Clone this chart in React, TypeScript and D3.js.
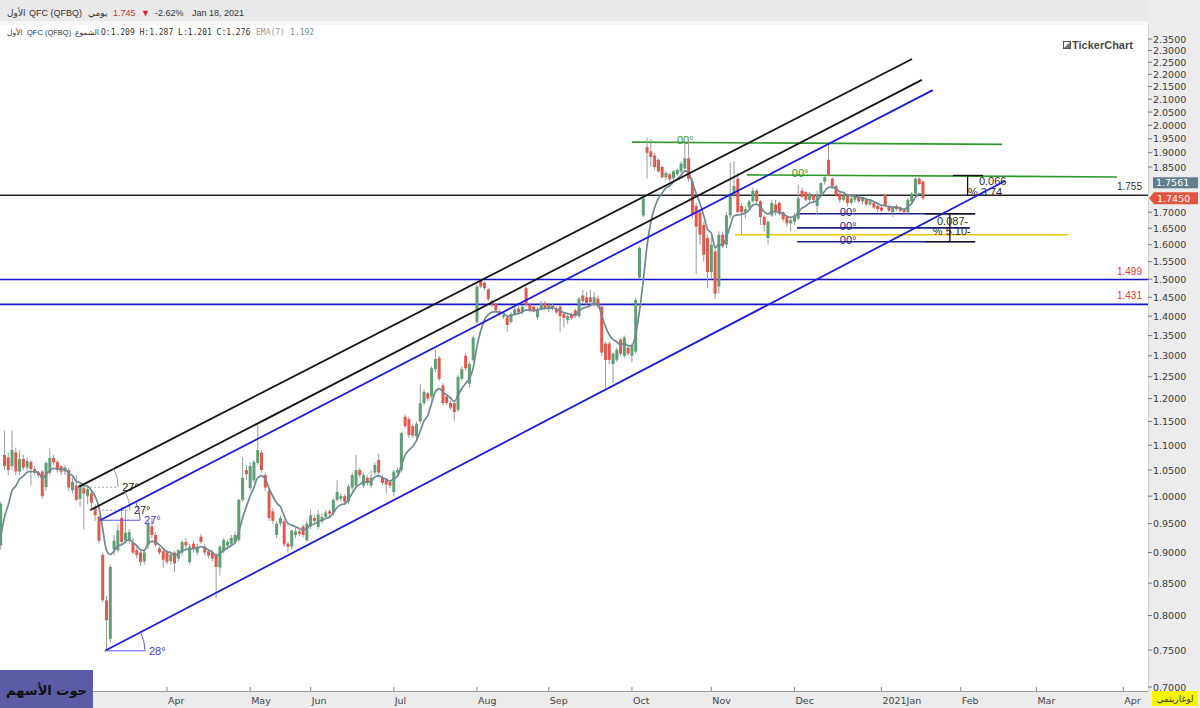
import React from "react";
import * as d3 from "d3";

// ---------- DATA ----------
// Daily candles (trading-day index; index 0 = first trading day of April 2020)
const FIRST_INDEX = -45;

const openPrices = [
  0.900,0.912,1.080,1.075,1.058,1.085,1.047,1.072,1.055,1.066,
  1.052,1.045,1.047,1.017,1.045,1.074,1.066,1.057,1.047,1.050,
  1.011,1.020,0.995,1.015,1.000,1.005,0.978,0.962,0.896,0.823,
  0.766,0.905,0.904,0.960,0.921,0.920,0.917,0.904,0.900,0.885,
  0.913,0.945,0.930,0.907,0.902,0.900,0.886,0.900,0.890,0.900,
  0.918,0.884,0.915,0.900,0.927,0.910,0.902,0.900,0.896,0.875,
  0.902,0.912,0.915,0.918,0.921,0.993,1.050,1.015,1.030,1.064,
  1.085,1.040,1.010,0.972,0.930,0.950,0.954,0.915,0.910,0.930,
  0.936,0.945,0.921,0.945,0.960,0.944,0.956,0.962,0.972,0.970,
  0.993,0.995,1.000,0.990,1.016,1.020,1.050,1.020,1.035,1.020,
  1.045,1.070,1.035,1.030,1.027,1.008,1.045,1.050,1.160,1.155,
  1.140,1.118,1.150,1.190,1.212,1.205,1.268,1.295,1.230,1.205,
  1.190,1.190,1.175,1.245,1.300,1.234,1.290,1.384,1.495,1.490,
  1.472,1.440,1.432,1.412,1.398,1.397,1.385,1.405,1.420,1.410,
  1.475,1.430,1.425,1.397,1.418,1.435,1.418,1.428,1.420,1.425,
  1.405,1.390,1.405,1.415,1.400,1.455,1.450,1.450,1.430,1.447,
  1.425,1.330,1.330,1.280,1.290,1.340,1.300,1.320,1.300,1.310,
  1.505,1.690,1.920,1.905,1.890,1.875,1.850,1.815,1.825,1.812,
  1.825,1.835,1.845,1.880,1.800,1.720,1.700,1.660,1.620,1.520,
  1.580,1.480,1.630,1.600,1.690,1.755,1.810,1.720,1.700,1.715,
  1.735,1.770,1.735,1.685,1.620,1.690,1.725,1.730,1.700,1.685,
  1.665,1.670,1.680,1.770,1.765,1.740,1.755,1.720,1.760,1.800,
  1.875,1.810,1.785,1.760,1.740,1.755,1.730,1.740,1.750,1.735,
  1.740,1.725,1.730,1.720,1.715,1.755,1.720,1.700,1.720,1.715,
  1.710,1.700,1.735,1.760,1.810,1.800,
];

const highPrices = [
  0.920,0.990,1.130,1.085,1.130,1.095,1.090,1.080,1.075,1.070,
  1.058,1.048,1.050,1.068,1.094,1.080,1.070,1.060,1.060,1.055,
  1.035,1.040,1.025,1.020,1.020,1.010,0.985,0.965,0.900,0.830,
  0.880,0.930,0.950,0.980,0.975,0.940,0.925,0.910,0.905,0.905,
  0.955,0.960,0.935,0.910,0.905,0.905,0.900,0.903,0.906,0.922,
  0.925,0.915,0.920,0.915,0.932,0.915,0.906,0.904,0.900,0.912,
  0.925,0.922,0.930,0.935,0.995,1.075,1.060,1.065,1.070,1.142,
  1.090,1.045,1.015,0.978,0.955,0.965,0.958,0.918,0.940,0.942,
  0.940,0.948,0.955,0.975,0.965,0.975,0.968,0.975,0.976,0.996,
  1.030,1.005,1.004,1.022,1.045,1.080,1.055,1.045,1.040,1.050,
  1.065,1.082,1.040,1.035,1.030,1.050,1.055,1.128,1.165,1.160,
  1.145,1.150,1.234,1.220,1.215,1.275,1.315,1.300,1.235,1.210,
  1.195,1.195,1.255,1.275,1.305,1.285,1.350,1.485,1.502,1.495,
  1.476,1.445,1.435,1.418,1.408,1.400,1.410,1.425,1.430,1.430,
  1.480,1.435,1.430,1.425,1.440,1.440,1.432,1.432,1.425,1.430,
  1.410,1.405,1.408,1.420,1.450,1.470,1.465,1.470,1.465,1.455,
  1.430,1.335,1.335,1.310,1.320,1.345,1.350,1.325,1.330,1.450,
  1.595,1.750,1.955,1.950,1.900,1.880,1.855,1.835,1.830,1.840,
  1.845,1.870,1.945,1.950,1.810,1.730,1.710,1.670,1.630,1.630,
  1.590,1.640,1.640,1.700,1.865,1.870,1.830,1.730,1.720,1.740,
  1.780,1.775,1.740,1.690,1.675,1.740,1.740,1.735,1.705,1.690,
  1.685,1.700,1.790,1.780,1.770,1.765,1.760,1.770,1.800,1.820,
  1.930,1.815,1.790,1.765,1.760,1.760,1.750,1.755,1.755,1.750,
  1.745,1.740,1.735,1.725,1.720,1.760,1.725,1.720,1.725,1.720,
  1.715,1.745,1.765,1.815,1.815,1.805,
];

const lowPrices = [
  0.890,0.905,1.050,1.040,1.050,1.040,1.040,1.050,1.048,1.020,
  1.040,1.035,0.995,1.010,1.040,1.060,1.045,1.040,1.040,1.010,
  1.005,0.990,0.980,0.940,0.985,0.975,0.955,0.915,0.820,0.750,
  0.760,0.895,0.900,0.912,0.915,0.915,0.897,0.890,0.878,0.880,
  0.905,0.925,0.910,0.896,0.875,0.880,0.880,0.868,0.885,0.895,
  0.905,0.880,0.900,0.895,0.915,0.895,0.890,0.885,0.827,0.862,
  0.898,0.905,0.910,0.915,0.918,0.990,1.030,1.010,1.025,1.060,
  1.045,1.010,0.955,0.950,0.925,0.945,0.910,0.900,0.905,0.925,
  0.928,0.926,0.918,0.940,0.950,0.940,0.950,0.958,0.962,0.965,
  0.990,0.990,0.985,0.985,1.010,1.015,1.035,1.015,1.020,1.015,
  1.040,1.040,1.020,1.005,1.015,1.000,1.040,1.045,1.135,1.115,
  1.115,1.112,1.145,1.185,1.195,1.200,1.260,1.240,1.185,1.185,
  1.175,1.150,1.170,1.240,1.265,1.225,1.285,1.380,1.475,1.470,
  1.440,1.425,1.410,1.400,1.392,1.360,1.380,1.400,1.405,1.405,
  1.425,1.410,1.410,1.390,1.415,1.418,1.410,1.415,1.405,1.360,
  1.370,1.380,1.390,1.395,1.395,1.435,1.430,1.430,1.425,1.420,
  1.300,1.225,1.280,1.235,1.285,1.300,1.295,1.300,1.285,1.305,
  1.500,1.685,1.810,1.850,1.840,1.830,1.810,1.805,1.800,1.805,
  1.820,1.830,1.840,1.800,1.680,1.515,1.600,1.550,1.475,1.500,
  1.445,1.460,1.590,1.590,1.680,1.745,1.700,1.630,1.680,1.710,
  1.730,1.730,1.660,1.640,1.600,1.685,1.690,1.690,1.670,1.655,
  1.640,1.660,1.675,1.745,1.735,1.730,1.730,1.690,1.755,1.790,
  1.820,1.775,1.750,1.730,1.735,1.720,1.725,1.730,1.730,1.725,
  1.720,1.720,1.710,1.700,1.700,1.715,1.700,1.685,1.705,1.700,
  1.695,1.695,1.730,1.755,1.790,1.740,
];

const closePrices = [
  0.910,0.986,1.058,1.050,1.090,1.047,1.072,1.055,1.068,1.052,
  1.045,1.040,1.000,1.064,1.074,1.065,1.050,1.047,1.055,1.016,
  1.027,0.993,1.020,1.005,1.013,0.988,0.965,0.920,0.823,0.793,
  0.876,0.920,0.938,0.918,0.934,0.935,0.900,0.896,0.884,0.900,
  0.950,0.930,0.913,0.900,0.888,0.884,0.897,0.882,0.904,0.918,
  0.912,0.910,0.907,0.910,0.918,0.900,0.895,0.890,0.876,0.910,
  0.921,0.918,0.925,0.930,0.993,1.035,1.042,1.058,1.066,1.090,
  1.050,1.016,0.960,0.955,0.950,0.960,0.914,0.910,0.938,0.936,
  0.932,0.930,0.950,0.965,0.955,0.966,0.962,0.970,0.968,0.993,
  1.008,1.000,0.990,1.018,1.040,1.050,1.040,1.040,1.025,1.035,
  1.060,1.045,1.025,1.022,1.020,1.047,1.050,1.125,1.140,1.121,
  1.120,1.145,1.190,1.215,1.200,1.270,1.292,1.245,1.190,1.190,
  1.180,1.170,1.250,1.268,1.270,1.280,1.345,1.480,1.480,1.475,
  1.445,1.430,1.415,1.405,1.402,1.377,1.405,1.418,1.410,1.425,
  1.430,1.415,1.412,1.418,1.432,1.420,1.428,1.420,1.410,1.400,
  1.395,1.400,1.395,1.400,1.447,1.440,1.435,1.437,1.450,1.426,
  1.308,1.290,1.290,1.305,1.315,1.305,1.345,1.305,1.326,1.443,
  1.590,1.745,1.900,1.885,1.850,1.835,1.815,1.830,1.808,1.835,
  1.840,1.862,1.880,1.810,1.695,1.655,1.630,1.570,1.520,1.600,
  1.460,1.630,1.595,1.690,1.760,1.785,1.700,1.700,1.710,1.735,
  1.770,1.735,1.685,1.660,1.670,1.730,1.700,1.695,1.678,1.665,
  1.675,1.690,1.745,1.750,1.740,1.760,1.740,1.755,1.795,1.815,
  1.820,1.785,1.755,1.740,1.755,1.730,1.745,1.750,1.735,1.745,
  1.725,1.735,1.715,1.710,1.705,1.720,1.705,1.715,1.710,1.705,
  1.700,1.740,1.760,1.810,1.792,1.745,
];

// month ticks (trading-day index of first session of each month)
const monthLabels = ["Apr", "May", "Jun", "Jul", "Aug", "Sep", "Oct", "Nov", "Dec", "2021Jan", "Feb", "Mar", "Apr"];
const monthStarts = [0, 22, 38, 60, 82, 101, 123, 144, 166, 189, 210, 230, 253];

// price axis
const priceMin = 0.7;
const priceMax = 2.35;
const priceStep = 0.05;

// full-width horizontal levels
const levelPrices = [1.755, 1.499, 1.431];
const levelLabels = ["1.755", "1.499", "1.431"];
const levelColors = ["#262626", "#1414d2", "#1414d2"];
const levelLabelColors = ["#333333", "#e8323c", "#e8323c"];

// trend channel lines [startIndex, startPrice, endIndex, endPrice]
const trendLines = [
  [-23.5, 1.017, 197.1, 2.264],
  [-20.4, 0.974, 199.7, 2.177],
  [-17.7, 0.956, 202.6, 2.136],
  [-16.4, 0.749, 221.7, 1.802],
];
const trendColors = ["#151515", "#151515", "#1c1ce0", "#1c1ce0"];
const trendAngleLabels = ["27°", "27°", "27°", "28°"];
const trendAngleColors = ["#222222", "#222222", "#3a3ae8", "#3a3ae8"];

// drawn segments with "00°" tags [startIndex, startPrice, endIndex, endPrice, tagIndex]
const tagLines = [
  [123.0, 1.938, 220.9, 1.930, 134.9],
  [153.4, 1.823, 251.3, 1.816, 165.3],
  [166.7, 1.695, 213.8, 1.695, 178.0],
  [166.7, 1.651, 212.4, 1.651, 178.0],
  [166.7, 1.609, 213.8, 1.609, 178.0],
];
const tagColors = ["#2f982f", "#2f982f", "#1f1f85", "#1f1f85", "#1f1f85"];

// yellow support line
const yellowLine = [150.3, 1.63, 238.4, 1.63];

// measuring tool segments
const measureSegs = [
  [207.9, 1.821, 215.9, 1.821],
  [211.8, 1.755, 211.8, 1.821],
  [200.5, 1.695, 213.8, 1.695],
  [200.5, 1.609, 213.8, 1.609],
  [207.1, 1.695, 207.1, 1.609],
];
const measureTexts = ["0.066", "% 3.74", "0.087-", "% 5.10-"];
const measureTextPos = [
  [214.8, 1.789],
  [211.9, 1.752],
  [203.7, 1.660],
  [202.6, 1.630],
];

const lastClose = 1.745;
const emaLast = "1.7561";

// ---------- COMPONENT ----------
const W = 1200;
const H = 708;
const PL = 0, PR = 1148, PT = 25, PB = 691;

export default function App() {
  const x = d3.scaleLinear().domain([0, 200]).range([167, 923]);
  const y = d3.scaleLog().domain([priceMin, priceMax]).range([687, 39]);

  const candles = closePrices.map((c, k) => ({
    i: FIRST_INDEX + k,
    o: openPrices[k],
    h: highPrices[k],
    l: lowPrices[k],
    c,
  }));

  const alpha = 2 / (7 + 1);
  const ema: number[] = [];
  closePrices.forEach((c, k) => {
    ema.push(k === 0 ? c : alpha * c + (1 - alpha) * ema[k - 1]);
  });
  const emaPath = d3
    .line<number>()
    .x((_, k) => x(FIRST_INDEX + k))
    .y((v) => y(v))
    .curve(d3.curveMonotoneX)(ema) as string;

  const ticks = d3.range(Math.round(priceMin / priceStep), Math.round(priceMax / priceStep) + 1).map((k) => +(k * priceStep).toFixed(2));
  const lastY = y(lastClose);
  const emaLabelY = lastY - 15.5;

  const font = "'Liberation Sans', 'DejaVu Sans', Arial, sans-serif";

  return (
    <svg width={W} height={H} style={{ position: "absolute", left: 0, top: 0, display: "block" }} fontFamily={font}>
      <defs>
        <clipPath id="plotClip">
          <rect x={PL} y={PT} width={PR - PL} height={PB - PT} />
        </clipPath>
      </defs>
      {/* backgrounds */}
      <rect x={0} y={0} width={W} height={H} fill="#ffffff" />
      <rect x={0} y={0} width={W} height={21} fill="#e9e9e9" />
      <rect x={0} y={21} width={PR} height={PT - 21} fill="#f6f6f6" />
      <rect x={PR} y={0} width={W - PR} height={H} fill="#ececec" />
      <rect x={0} y={PB} width={W} height={H - PB} fill="#ececec" />
      <line x1={0} x2={PR} y1={PB + 0.5} y2={PB + 0.5} stroke="#9a9a9a" strokeWidth={1} />
      <line x1={PR + 0.5} x2={PR + 0.5} y1={PT} y2={PB} stroke="#d0d0d0" strokeWidth={1} />

      <g clipPath="url(#plotClip)">
        {/* full-width levels */}
        {levelPrices.map((p, k) => (
          <g key={"lv" + k}>
            <line x1={PL} x2={PR} y1={y(p)} y2={y(p)} stroke={levelColors[k]} strokeWidth={1.6} />
            <text x={PR - 6} y={y(p) - 5} textAnchor="end" fontSize={10} fill={levelLabelColors[k]}>
              {levelLabels[k]}
            </text>
          </g>
        ))}

        {/* yellow */}
        <line x1={x(yellowLine[0])} x2={x(yellowLine[2])} y1={y(yellowLine[1])} y2={y(yellowLine[3])} stroke="#f2c400" strokeWidth={1.6} />

        {/* tag lines */}
        {tagLines.map((t, k) => (
          <g key={"tg" + k}>
            <line x1={x(t[0])} x2={x(t[2])} y1={y(t[1])} y2={y(t[3])} stroke={tagColors[k]} strokeWidth={1.6} />
            <text x={x(t[4])} y={y(t[1]) + 2} fontSize={11} fill={tagColors[k]}>
              00°
            </text>
          </g>
        ))}

        {/* measuring tool */}
        {measureSegs.map((s, k) => (
          <line key={"ms" + k} x1={x(s[0])} x2={x(s[2])} y1={y(s[1])} y2={y(s[3])} stroke="#111" strokeWidth={1.3} />
        ))}
        {measureTexts.map((t, k) => (
          <text key={"mt" + k} x={x(measureTextPos[k][0])} y={y(measureTextPos[k][1])} fontSize={11} fill="#2a2a2a">
            {t}
          </text>
        ))}

        {/* candles */}
        {candles.map((d) => {
          const cx = x(d.i);
          const up = d.c >= d.o;
          const col = up ? "#5f9f74" : "#e2584c";
          const top = y(Math.max(d.o, d.c));
          const bot = y(Math.min(d.o, d.c));
          return (
            <g key={"c" + d.i}>
              <line x1={cx} x2={cx} y1={y(d.h)} y2={y(d.l)} stroke="#9b9b9b" strokeWidth={1} />
              <rect x={cx - 1.5} y={top} width={3} height={Math.max(1, bot - top)} fill={col} />
            </g>
          );
        })}

        {/* EMA */}
        <path d={emaPath} fill="none" stroke="#6f8893" strokeWidth={1.7} />

        {/* trend channel lines + angle markers */}
        {trendLines.map((t, k) => {
          const sx = x(t[0]);
          const sy = y(t[1]);
          const ex = x(t[2]);
          const ey = y(t[3]);
          const a = Math.atan2(sy - ey, ex - sx);
          const r = 40;
          const blue = k >= 2;
          return (
            <g key={"tl" + k}>
              <line x1={sx} y1={sy} x2={ex} y2={ey} stroke={trendColors[k]} strokeWidth={1.8} />
              <line x1={sx} y1={sy} x2={sx + r} y2={sy} stroke={blue ? "#5555ee" : "#9a9a9a"} strokeWidth={1} strokeDasharray={blue ? undefined : "2,2"} />
              <path
                d={`M${sx + r},${sy} A${r},${r} 0 0 0 ${sx + r * Math.cos(a)},${sy - r * Math.sin(a)}`}
                fill="none"
                stroke={blue ? "#5555ee" : "#9a9a9a"}
                strokeWidth={1}
              />
              <text x={sx + r + 4} y={sy + 4} fontSize={11} fill={trendAngleColors[k]}>
                {trendAngleLabels[k]}
              </text>
            </g>
          );
        })}
      </g>

      {/* TickerChart logo */}
      <g>
        <rect x={1063.5} y={41.5} width={7} height={7} fill="none" stroke="#555" strokeWidth={1} />
        <path d="M1064,48 L1070,42 L1070,48 Z" fill="#777" />
        <text x={1072} y={49} fontSize={11} fontWeight="bold" fill="#4a4a4a">
          TickerChart
        </text>
      </g>

      {/* right price axis */}
      {ticks.map((p) => {
        const ty = y(p);
        if (Math.abs(ty - lastY) < 10 || Math.abs(ty - emaLabelY) < 10) return null;
        return (
          <g key={"pt" + p}>
            <line x1={PR} x2={PR + 4} y1={ty} y2={ty} stroke="#777" strokeWidth={1} />
            <text x={PR + 5} y={ty + 3.5} fontSize={9.5} fill="#3a3a3a" fontFamily="'DejaVu Sans', sans-serif">
              {p.toFixed(4)}
            </text>
          </g>
        );
      })}

      {/* value tags */}
      <rect x={PR + 5} y={emaLabelY - 5.5} width={45} height={11} fill="#5f7f8b" />
      <text x={PR + 8} y={emaLabelY + 3.5} fontSize={9.5} fill="#ffffff" fontFamily="'DejaVu Sans', sans-serif">
        {emaLast}
      </text>
      <path d={`M${PR + 1},${lastY} L${PR + 6},${lastY - 6} L${W - 2},${lastY - 6} L${W - 2},${lastY + 6} L${PR + 6},${lastY + 6} Z`} fill="#e2553f" />
      <text x={PR + 9} y={lastY + 3.5} fontSize={9.5} fill="#ffffff" fontFamily="'DejaVu Sans', sans-serif">
        {lastClose.toFixed(4)}
      </text>

      {/* bottom time axis */}
      {monthLabels.map((m, k) => {
        const tx = x(monthStarts[k]);
        return (
          <g key={"mx" + k}>
            <line x1={tx} x2={tx} y1={PB - 4} y2={PB} stroke="#888" strokeWidth={1} />
            <text x={tx + 1} y={PB + 13} fontSize={9.5} fill="#444" fontFamily="'DejaVu Sans', sans-serif">
              {m}
            </text>
          </g>
        );
      })}

      {/* logarithmic badge */}
      <rect x={1152} y={691} width={46} height={15} fill="#f5f500" />
      <text x={1175} y={702} textAnchor="middle" fontSize={9} fill="#333">
        لوغاريتمي
      </text>

      {/* bottom-left brand box */}
      <rect x={0} y={670} width={93} height={38} fill="#5b5ba6" />
      <text x={46.5} y={695} textAnchor="middle" fontSize={13} fontWeight="bold" fill="#111" fontFamily="'DejaVu Sans', sans-serif">
        حوت الأسهم
      </text>

      {/* header row 1 */}
      <g fontSize={9} fill="#333">
        <text x={7} y={16}>الأول</text>
        <text x={29} y={16}>QFC (QFBQ)</text>
        <text x={88} y={16}>يومي</text>
        <text x={113} y={16} fill="#d2343c">1.745</text>
        <text x={141} y={16} fill="#c8202a" fontSize={9}>▼</text>
        <text x={155} y={16}>-2.62%</text>
        <text x={192} y={16}>Jan 18, 2021</text>
      </g>
      {/* header row 2 */}
      <g fontSize={7.5} fill="#333">
        <text x={7} y={35}>الأول</text>
        <text x={27} y={35}>QFC (QFBQ)</text>
        <text x={75} y={35}>الشموع</text>
        <text x={101} y={35} fontFamily="'DejaVu Sans Mono', monospace" fontSize={8}>O:1.209 H:1.287 L:1.201 C:1.276</text>
        <text x={256} y={35} fill="#9a9a9a" fontFamily="'DejaVu Sans Mono', monospace" fontSize={8}>EMA(7)</text>
        <text x={290} y={35} fill="#6c8e9c" fontFamily="'DejaVu Sans Mono', monospace" fontSize={8}>1.192</text>
      </g>
    </svg>
  );
}
